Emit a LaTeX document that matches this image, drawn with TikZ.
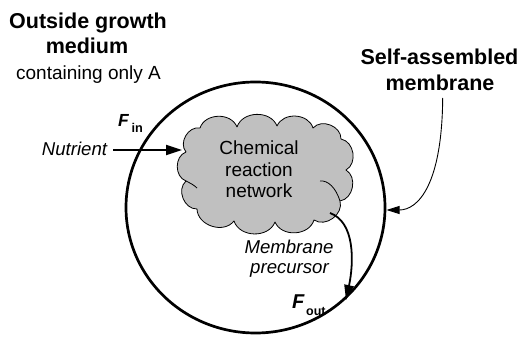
\documentclass[tikz,border=0pt]{standalone}
\usepackage{fontspec}
\setmainfont{Liberation Sans}
\usetikzlibrary{shapes.geometric,arrows.meta}
\definecolor{cloudgray}{RGB}{192,192,192}
\tikzset{
  boldlbl/.style={inner sep=0pt, anchor=base, font=\fontsize{21.5}{25}\selectfont\bfseries},
  reglbl/.style={inner sep=0pt, anchor=base, font=\fontsize{19}{21.5}\selectfont},
  itlbl/.style={inner sep=0pt, anchor=base, font=\fontsize{18.6}{20}\selectfont\itshape},
  flowarrow/.style={line width=1.8pt, -{Triangle[length=16pt,width=10pt]}},
  thinarrow/.style={line width=0.9pt, -{Triangle[length=13pt,width=8pt]}},
  puff/.style={bend left=70, looseness=1.1},
  cloudline/.style={line width=0.8pt, line join=round},
}
\begin{document}
\begin{tikzpicture}[x=1pt,y=-1pt]
\useasboundingbox (0,0) rectangle (522,339);
% cell membrane
\node[draw, ellipse, line width=2.7pt, minimum width=259pt, minimum height=251pt, inner sep=0pt] (cell) at (255.5,207.5) {};
% cloud (chemical reaction network)
\coordinate (p1) at (186,152);
\coordinate (p2) at (200,128);
\coordinate (p3) at (237,127);
\coordinate (p4) at (277,126);
\coordinate (p5) at (313,128);
\coordinate (p6) at (341,139);
\coordinate (p7) at (346,170);
\coordinate (p8) at (340,201);
\coordinate (p9) at (314,220);
\coordinate (p10) at (275,222);
\coordinate (p11) at (234,221);
\coordinate (p12) at (197,209);
\coordinate (p13) at (186,181);
\draw[cloudline, fill=cloudgray] (p1) to[puff] (p2) to[puff] (p3) to[puff] (p4) to[puff] (p5)
  to[puff] (p6) to[puff] (p7) to[puff] (p8) to[puff] (p9) to[puff] (p10) to[puff] (p11)
  to[puff] (p12) to[puff] (p13) to[puff] (p1) -- cycle;
\draw[cloudline] (p13) .. controls (190,183) and (194,185) .. (197,188);
\draw[cloudline] (320,181) .. controls (328,180) and (336,188) .. (p8);
\node[align=center, inner sep=0pt, font=\fontsize{19}{21.5}\selectfont] (crntxt) at (259,169.5) {Chemical\\reaction\\network};
% outside labels
\node[boldlbl] (og1) at (88,29) {Outside growth};
\node[boldlbl] (og2) at (87,54) {medium};
\node[reglbl] (og3) at (88.5,80) {containing only A};
\node[boldlbl] (sa1) at (439.5,65) {Self-assembled};
\node[boldlbl] (sa2) at (440,90.7) {membrane};
% nutrient
\node[itlbl, anchor=base west] (nutr) at (41.7,156) {Nutrient};
\coordinate (inTip) at (182,150);
\draw[flowarrow, shorten <=6pt] (nutr.east |- inTip) -- (inTip);
\node[inner sep=0pt, anchor=base west, font=\fontsize{17.5}{18}\selectfont\bfseries\itshape] (fin) at (118,127) {F};
\node[inner sep=0pt, anchor=base west, font=\fontsize{12.7}{13}\selectfont\bfseries] (finsub) at (131.5,133) {in};
% membrane precursor
\node[itlbl] (mp1) at (289,253) {Membrane};
\node[itlbl] (mp2) at (289.5,273) {precursor};
\coordinate (outStart) at (330,213);
\coordinate (outTip) at (346,300);
\draw[flowarrow, -{Triangle[length=15pt,width=9.5pt]}] (outStart) .. controls (355,222) and (354,262) .. (outTip);
\node[inner sep=0pt, anchor=base west, font=\fontsize{20}{20}\selectfont\bfseries\itshape] (fout) at (292,308) {F};
\node[inner sep=0pt, anchor=base west, font=\fontsize{12.5}{13}\selectfont\bfseries] (foutsub) at (306,315) {out};
% self-assembled membrane pointer
\coordinate (memStart) at (442.7,98);
\coordinate (memTip) at (386.5,210);
\draw[thinarrow] (memStart) .. controls (442,185) and (418,210) .. (memTip);
\end{tikzpicture}
\end{document}
